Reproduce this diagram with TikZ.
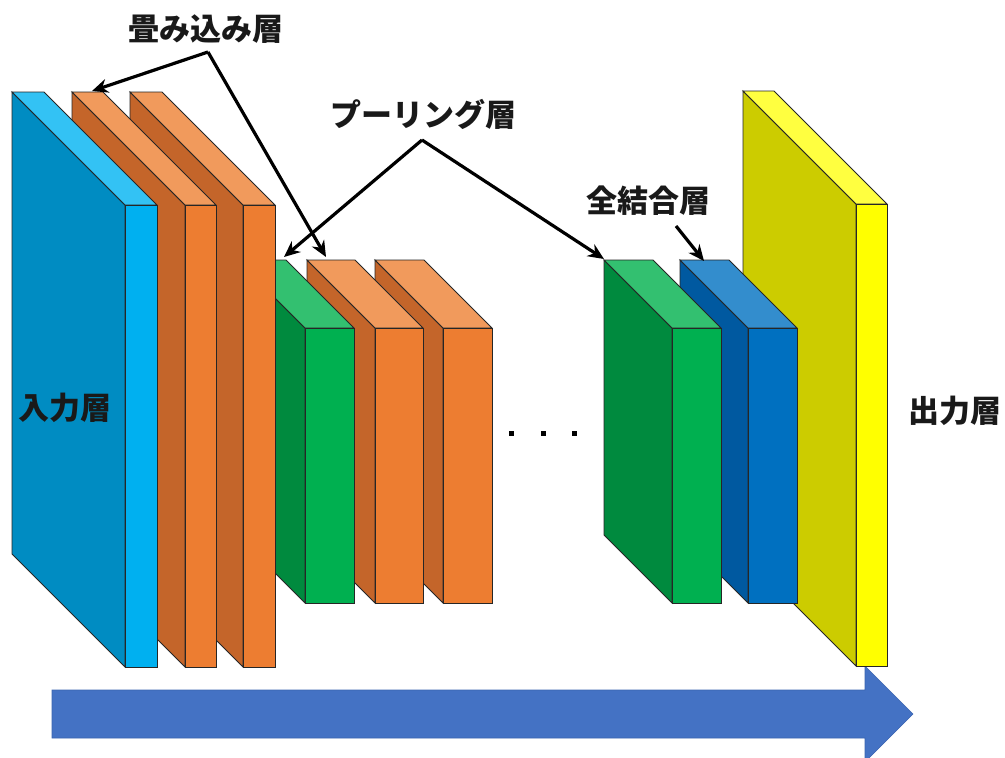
\documentclass[tikz,border=0pt]{standalone}
\usepackage{fontspec}
\newfontfamily\jp{Noto Sans CJK JP}
\usetikzlibrary{arrows.meta}
\definecolor{bluS}{HTML}{008CC2}\definecolor{bluF}{HTML}{00B0F0}\definecolor{bluT}{HTML}{33C2F4}
\definecolor{orgS}{HTML}{C4652A}\definecolor{orgF}{HTML}{ED7D31}\definecolor{orgT}{HTML}{F19A5C}
\definecolor{grnS}{HTML}{008A3E}\definecolor{grnF}{HTML}{00B050}\definecolor{grnT}{HTML}{33C070}
\definecolor{dbS}{HTML}{0059A0}\definecolor{dbF}{HTML}{0070C0}\definecolor{dbT}{HTML}{338DCD}
\definecolor{yelS}{HTML}{CCCC00}\definecolor{yelF}{HTML}{FFFF00}\definecolor{yelT}{HTML}{FFFF40}
\definecolor{flow}{HTML}{4472C4}\definecolor{flowE}{HTML}{3A64B0}
% \slab{x1}{x2}{ytop}{ybottom}{depth}{side}{front}{top}
\newcommand{\slab}[8]{%
  \filldraw[face,fill=#6] ({#1-#5},{#3-#5}) -- (#1,#3) -- (#1,#4) -- ({#1-#5},{#4-#5}) -- cycle;
  \filldraw[face,fill=#8] ({#1-#5},{#3-#5}) -- ({#2-#5},{#3-#5}) -- (#2,#3) -- (#1,#3) -- cycle;
  \filldraw[face,fill=#7] (#1,#3) rectangle (#2,#4);}
\tikzset{
  face/.style={draw=black!85,line width=0.9pt,line join=miter},
  lbl/.style={font=\jp\bfseries\fontsize{31}{31}\selectfont,inner sep=0pt,text=black!90},
  ptr/.style={draw=black,line width=3.2pt,-{Stealth[length=16pt,width=14pt]},shorten >=0pt},
  dot/.style={fill=black,minimum size=5pt,inner sep=0pt,rectangle}
}
\begin{document}
\begin{tikzpicture}[x=1pt,y=-1pt]
\useasboundingbox (0,0) rectangle (1005,758);
\begin{scope}
\clip (0,0) rectangle (1005,758);
% flow arrow
\filldraw[fill=flow,draw=flowE,line width=0.6pt] (52,690) -- (865,690) -- (865,666) -- (913,714) -- (865,762) -- (865,738) -- (52,738) -- cycle;
\end{scope}
% slabs, right to left
\slab{856}{887}{204}{666}{113}{yelS}{yelF}{yelT}
\slab{748}{797}{328}{603}{68}{dbS}{dbF}{dbT}
\slab{672}{721}{328}{603}{68}{grnS}{grnF}{grnT}
\slab{443}{492}{328}{603}{68}{orgS}{orgF}{orgT}
\slab{375}{423}{328}{603}{68}{orgS}{orgF}{orgT}
\slab{305}{354}{328}{603}{68}{grnS}{grnF}{grnT}
\slab{243}{275}{205}{667}{113}{orgS}{orgF}{orgT}
\slab{185}{216}{205}{667}{113}{orgS}{orgF}{orgT}
\slab{125}{157}{205}{667}{113}{bluS}{bluF}{bluT}
% labels
\node[lbl] (conv) at (206,29) {畳み込み層};
\node[lbl] (pool) at (423,114) {プーリング層};
\node[lbl] (fc) at (648,201) {全結合層};
\node[lbl] (inp) at (65,408) {入力層};
\node[lbl] (out) at (955,411) {出力層};
% dots
\node[dot] (d1) at (511,433) {};
\node[dot] (d2) at (543,433) {};
\node[dot] (d3) at (574,433) {};
% pointer coordinates
\coordinate (convA) at (208,52);
\coordinate (conv1) at (92,91);
\coordinate (conv2) at (326,257);
\coordinate (poolA) at (422,140);
\coordinate (pool1) at (284,257);
\coordinate (pool2) at (604,259);
\coordinate (fcA) at (676,226);
\coordinate (fc1) at (704,261);
\draw[ptr] (convA) -- (conv1);
\draw[ptr] (convA) -- (conv2);
\draw[ptr] (poolA) -- (pool1);
\draw[ptr] (poolA) -- (pool2);
\draw[ptr] (fcA) -- (fc1);
\end{tikzpicture}
\end{document}
